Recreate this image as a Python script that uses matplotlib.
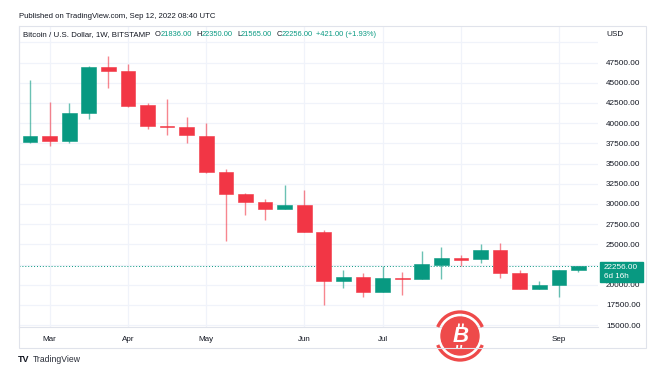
import numpy as np
import pandas as pd
import matplotlib
matplotlib.use('Agg')
import matplotlib.pyplot as plt
import matplotlib.dates as mdates
from matplotlib.patches import Rectangle, Circle, Arc

plt.rcParams.update({
    'font.family': 'Liberation Sans',
    'font.size': 5.8,
})

# weekly candles, BTC/USD Bitstamp
weeks = ['2022-02-28', '2022-03-07', '2022-03-14', '2022-03-21', '2022-03-28',
         '2022-04-04', '2022-04-11', '2022-04-18', '2022-04-25', '2022-05-02',
         '2022-05-09', '2022-05-16', '2022-05-23', '2022-05-30', '2022-06-06',
         '2022-06-13', '2022-06-20', '2022-06-27', '2022-07-04', '2022-07-11',
         '2022-07-18', '2022-07-25', '2022-08-01', '2022-08-08', '2022-08-15',
         '2022-08-22', '2022-08-29', '2022-09-05', '2022-09-12']
opens = [37700, 38450, 37790, 41260, 46910, 46460, 42210, 39680, 39490, 38470,
         34010, 31230, 30200, 29340, 29870, 26490, 20460, 20950, 19130, 20830,
         20670, 22480, 23270, 23150, 24300, 21490, 19470, 19930, 21836]
highs = [45340, 42620, 42460, 47080, 48310, 47320, 42460, 42990, 40800, 40080,
         34290, 31320, 30610, 32380, 31760, 26770, 21820, 21410, 22350, 21610,
         24210, 24630, 23680, 25040, 25200, 21820, 20500, 21780, 22350]
lows = [37500, 37190, 37580, 40550, 44310, 41960, 39310, 38570, 37500, 33770,
        25410, 28630, 28010, 29340, 26520, 17520, 19550, 18510, 19060, 18730,
        20670, 20670, 22350, 22650, 20790, 19470, 19470, 18510, 21565]
closes = [38450, 37790, 41290, 46990, 46420, 42120, 39650, 39490, 38500, 33950,
          31230, 30200, 29370, 29870, 26520, 20460, 20990, 19130, 20830, 20670,
          22560, 23270, 23060, 24300, 21410, 19470, 19930, 21780, 22256]

# month grid; the Aug label sits under the watermark in the source image
grid_months = ['2022-03-07', '2022-04-04', '2022-05-02', '2022-06-06',
               '2022-07-04', '2022-08-01', '2022-09-05']
label_months = ['2022-03-07', '2022-04-04', '2022-05-02', '2022-06-06',
                '2022-07-04', '2022-09-05']
month_labels = ['Mar', 'Apr', 'May', 'Jun', 'Jul', 'Sep']
grid_prices = [15000, 17500, 20000, 22500, 25000, 27500, 30000, 32500, 35000,
               37500, 40000, 42500, 45000, 47500, 50000]
price_labels = [15000, 17500, 20000, 25000, 27500, 30000, 32500, 35000,
                37500, 40000, 42500, 45000, 47500]
last_price = 22256
change_text = '+421.00 (+1.93%)'

UP = '#089981'
DOWN = '#F23645'
GRID = '#f0f3fa'
TXT = '#131722'

W, H = 654, 379
fig = plt.figure(figsize=(W / 100, H / 100), dpi=100)

def fx(px):
    return px / W

def fy(py):
    return 1 - py / H

ax = fig.add_axes([fx(19), fy(327), fx(598) - fx(19), fy(26) - fy(327)])

x = mdates.date2num(pd.to_datetime(weeks))
o = np.array(opens)
c = np.array(closes)
hi = np.array(highs)
lo = np.array(lows)
cols = np.where(c >= o, UP, DOWN)

for xm in mdates.date2num(pd.to_datetime(grid_months)):
    ax.axvline(xm, color=GRID, lw=0.9, zorder=0)
for p in grid_prices:
    ax.axhline(p, color=GRID, lw=0.9, zorder=0)

ax.vlines(x, lo, hi, colors=cols, lw=1.0, alpha=0.6, zorder=2)
body = np.maximum(np.abs(c - o), 60)
ax.bar(x, body, bottom=np.minimum(o, c), width=5.25, color=cols,
       edgecolor=cols, lw=0.4, zorder=3)

ax.axhline(last_price, color=UP, lw=0.7, ls=(0, (1, 2)), zorder=1)

x0 = mdates.date2num(pd.Timestamp('2022-02-28'))
x1 = mdates.date2num(pd.Timestamp('2022-09-12'))
ax.set_xlim(x0 - 3.93, x1 + 6.97)
ax.set_ylim(14763, 52027)

ax.set_xticks(mdates.date2num(pd.to_datetime(label_months)), month_labels)
ax.tick_params(axis='x', length=0, pad=6.3, labelsize=5.8, labelcolor=TXT)
ax.yaxis.tick_right()
ax.set_yticks(price_labels, [f'{p:.2f}' for p in price_labels])
ax.tick_params(axis='y', length=0, pad=5.8, labelsize=5.9, labelcolor=TXT)

for s in ['top', 'right']:
    ax.spines[s].set_visible(False)
for s in ['left', 'bottom']:
    ax.spines[s].set_color('#e0e3eb')
    ax.spines[s].set_linewidth(0.8)

# outer frame of the chart
fig.add_artist(Rectangle((fx(19), fy(348)), fx(646) - fx(19), fy(26) - fy(348),
                         transform=fig.transFigure, fill=False,
                         edgecolor='#e0e3eb', lw=0.8))

fig.text(fx(606), fy(35), 'USD', fontsize=5.9, color=TXT, va='center')

# last price tag
fig.add_artist(Rectangle((fx(600), fy(282)), fx(643) - fx(600), fy(262) - fy(282),
                         transform=fig.transFigure, color=UP))
fig.text(fx(604), fy(267.5), f'{last_price:.2f}', fontsize=5.9, color='white', va='center')
fig.text(fx(604), fy(277), '6d 16h', fontsize=5.9, color='white', va='center')

# header
fig.text(fx(19), fy(17), 'Published on TradingView.com, Sep 12, 2022 08:40 UTC',
         fontsize=5.6, color=TXT, va='center')
hy = fy(35)
fig.text(fx(23), hy, 'Bitcoin / U.S. Dollar, 1W, BITSTAMP', fontsize=5.7, color=TXT, va='center')
for xl, lab, xv, val in [(155, 'O', 160.5, opens[-1]), (196.5, 'H', 201.5, highs[-1]),
                         (237, 'L', 241, lows[-1]), (277, 'C', 281.5, closes[-1])]:
    fig.text(fx(xl), hy, lab, fontsize=5.4, color=TXT, va='center')
    fig.text(fx(xv), hy, f'{val:.2f}', fontsize=5.4, color=UP, va='center')
fig.text(fx(316), hy, change_text, fontsize=5.4, color=UP, va='center')

# footer logo
fig.text(fx(18), fy(360), 'TV', fontsize=6.5, weight='heavy', color=TXT, va='center')
fig.text(fx(33), fy(360), 'TradingView', fontsize=6.2, color='#2a2e39', va='center')

# bitcoin watermark
wm = fig.add_axes([fx(460 - 27), fy(336 + 27), fx(54), fy(0) - fy(54)])
wm.set_xlim(-27, 27)
wm.set_ylim(-27, 27)
wm.axis('off')
RED = '#ee4a4a'
wm.add_patch(Circle((0, 0), 19, color=RED))
wm.add_patch(Arc((0, 0), 48, 48, theta1=22, theta2=158, color=RED, lw=2.4))
wm.add_patch(Arc((0, 0), 48, 48, theta1=202, theta2=338, color=RED, lw=2.4))
wm.text(0.5, 0, 'B', fontsize=16, weight='bold', style='italic', color='white',
        ha='center', va='center')
for dx in (-2.0, 2.0):
    wm.plot([dx + 0.6, dx + 1.1], [9, 12.5], color='white', lw=1.3, solid_capstyle='butt')
    wm.plot([dx - 1.1, dx - 0.6], [-12.5, -9], color='white', lw=1.3, solid_capstyle='butt')

fig.savefig('out.png', dpi=100, facecolor='white')
